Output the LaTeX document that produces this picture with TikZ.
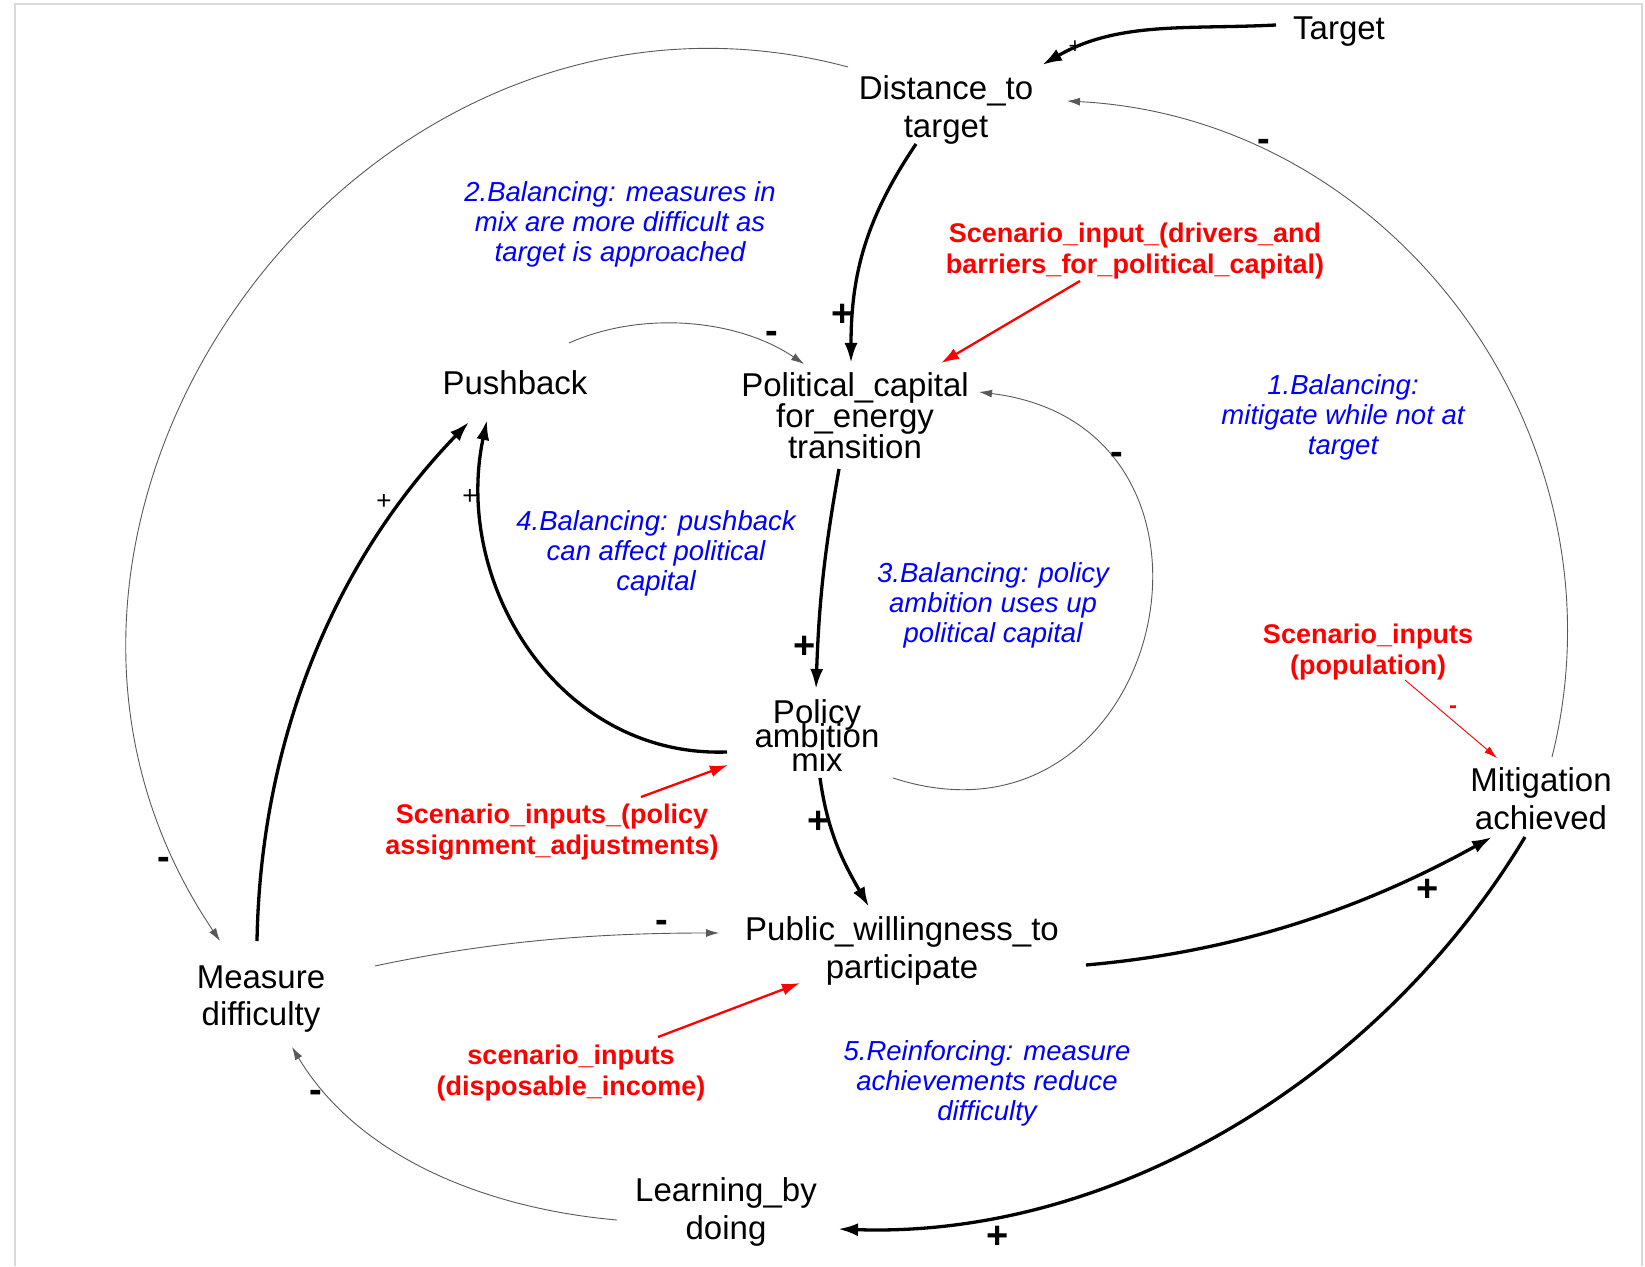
\documentclass[tikz,border=0pt]{standalone}
\usepackage{fontspec}
\setmainfont{Liberation Sans}
\usetikzlibrary{arrows.meta}
\begin{document}
\begin{tikzpicture}[x=1pt,y=1pt,
  var/.style={font={\fontsize{33}{38}\selectfont\lineskiplimit-100pt}, align=center, inner sep=0pt},
  loopl/.style={text=blue, font={\fontsize{27.5}{30}\selectfont\itshape}, align=center, inner sep=0pt},
  scen/.style={text=red, font={\fontsize{27}{31}\selectfont\bfseries}, align=center, inner sep=0pt},
  thicklink/.style={line width=3.3pt, -{Latex[length=20pt,width=13pt]}},
  thinlink/.style={line width=0.9pt, black!65, -{Latex[length=13pt,width=8pt]}},
  redlink/.style={line width=2.3pt, red, -{Latex[length=18pt,width=12pt]}},
  redthinlink/.style={line width=0.9pt, red, -{Latex[length=13pt,width=8pt]}},
  bigsign/.style={font={\fontsize{38}{38}\selectfont\bfseries}, inner sep=0pt},
  smallsign/.style={font={\fontsize{26}{26}\selectfont}, inner sep=0pt},
]
\useasboundingbox (0,0) rectangle (1645,1266);
\draw[black!15, line width=2pt] (15,0) -- (15,1262) -- (1642,1262) -- (1642,0);

% variables
\node[var] (target) at (1339,1234) {Target};
\node[var] (dist) at (946,1156) {Distance\_to\\target};
\node[var, font={\fontsize{33}{31}\selectfont\lineskiplimit-100pt}] (pc) at (855,850) {Political\_capital\\for\_energy\\transition};
\node[var] (push) at (515,883) {Pushback};
\node[var, font={\fontsize{33}{24}\selectfont\lineskiplimit-100pt}] (pam) at (817,530) {Policy\\ambition\\mix};
\node[var] (mit) at (1541,467) {Mitigation\\achieved};
\node[var] (pub) at (902,315) {Public\_willingness\_to\\participate};
\node[var, font={\fontsize{33}{37}\selectfont}] (meas) at (261,267) {Measure\\difficulty};
\node[var, font={\fontsize{33}{38}\selectfont}] (learn) at (726,54) {Learning\_by\\doing};

% loop labels
\node[loopl] (l2) at (620,1042) {2.Balancing: measures in\\mix are more difficult as\\target is approached};
\node[loopl] (l1) at (1343,849) {1.Balancing:\\mitigate while not at\\target};
\node[loopl] (l4) at (656,713) {4.Balancing: pushback\\can affect political\\capital};
\node[loopl] (l3) at (993,661) {3.Balancing: policy\\ambition uses up\\political capital};
\node[loopl] (l5) at (987,183) {5.Reinforcing: measure\\achievements reduce\\difficulty};

% scenario inputs
\node[scen] (sdrv) at (1135,1015) {Scenario\_input\_(drivers\_and\\barriers\_for\_political\_capital)};
\node[scen] (spop) at (1368,614) {Scenario\_inputs\\(population)};
\node[scen] (spol) at (552,434) {Scenario\_inputs\_(policy\\assignment\_adjustments)};
\node[scen] (sinc) at (571,193) {scenario\_inputs\\(disposable\_income)};

% connectors
\draw[thicklink] ([shift={(-63,7)}]target.center) to[out=183,in=30,looseness=0.95] ([shift={(96,45)}]dist.center);
\draw[thicklink] ([shift={(-30,-34)}]dist.center) to[out=236,in=90,looseness=1] ([shift={(-4,53)}]pc.center);
\draw[redlink] ([shift={(-55,-30)}]sdrv.center) -- ([shift={(86,53)}]pc.center);
\draw[thinlink] ([shift={(54,40)}]push.center) to[out=24,in=146,looseness=0.87] ([shift={(-51,52)}]pc.center);
\draw[thinlink] ([shift={(76,-42)}]pam.center) to[out=342,in=353,looseness=1.85] ([shift={(124,24)}]pc.center);
\draw[thicklink] ([shift={(-16,-53)}]pc.center) to[out=260,in=88,looseness=1] ([shift={(-1,47)}]pam.center);
\draw[thicklink] ([shift={(-90,-16)}]pam.center) to[out=182,in=258,looseness=1.05] ([shift={(-28,-37)}]push.center);
\draw[thicklink] ([shift={(-4,58)}]meas.center) to[out=89,in=226,looseness=0.9] ([shift={(-46,-39)}]push.center);
\draw[thinlink] ([shift={(-98,43)}]dist.center) to[out=165,in=124,looseness=1.2] ([shift={(-41,58)}]meas.center);
\draw[thinlink] ([shift={(11,42)}]mit.center) to[out=76,in=357,looseness=1.03] ([shift={(121,9)}]dist.center);
\draw[redthinlink] ([shift={(37,-28)}]spop.center) -- ([shift={(-44,41)}]mit.center);
\draw[thicklink] ([shift={(3,-42)}]pam.center) to[out=278,in=120,looseness=1] ([shift={(-33,44)}]pub.center);
\draw[redlink] ([shift={(89,35)}]spol.center) -- ([shift={(-89,-29)}]pam.center);
\draw[thinlink] ([shift={(114,33)}]meas.center) to[out=12,in=180,looseness=0.9] ([shift={(-183,18)}]pub.center);
\draw[redlink] ([shift={(87,36)}]sinc.center) -- ([shift={(-102,-32)}]pub.center);
\draw[thicklink] ([shift={(184,-14)}]pub.center) to[out=5,in=209,looseness=0.9] ([shift={(-49,-38)}]mit.center);
\draw[thicklink] ([shift={(-16,-38)}]mit.center) to[out=239,in=-2,looseness=0.9] ([shift={(112,-17)}]learn.center);
\draw[thinlink] ([shift={(-109,-8)}]learn.center) to[out=175,in=301,looseness=0.9] ([shift={(31,-48)}]meas.center);

% polarity signs
\node[smallsign, font={\fontsize{22}{22}\selectfont}] (s1) at (1075,1219) {+};
\node[bigsign] (s2) at (843,951) {+};
\node[bigsign] (s4) at (772,929) {-};
\node[bigsign] (s5) at (1117,808) {-};
\node[bigsign] (s6) at (805,619) {+};
\node[smallsign] (s7) at (470,769) {+};
\node[smallsign] (s8) at (384,764) {+};
\node[bigsign] (s9) at (164,403) {-};
\node[bigsign] (s10) at (1264,1121) {-};
\node[smallsign, text=red, font={\fontsize{24}{24}\selectfont\bfseries}] (s11) at (1453,556) {-};
\node[bigsign] (s12) at (819,444) {+};
\node[bigsign] (s14) at (662,340) {-};
\node[bigsign] (s16) at (1428,376) {+};
\node[bigsign] (s17) at (998,29) {+};
\node[bigsign] (s18) at (316,170) {-};
\end{tikzpicture}
\end{document}
